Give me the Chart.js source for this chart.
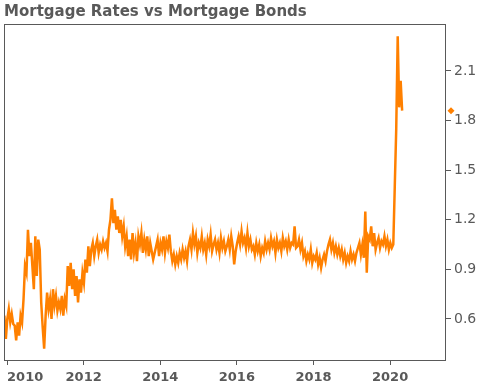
<!DOCTYPE html>
<html>
<head>
<meta charset="utf-8">
<title>Mortgage Rates vs Mortgage Bonds</title>
<script src="https://cdn.jsdelivr.net/npm/chart.js@4.4.1/dist/chart.umd.min.js"></script>
<style>
  html, body { margin: 0; padding: 0; background: #fff; }
  canvas { display: block; }
</style>
</head>
<body>
<canvas id="chart" width="484" height="386"></canvas>
<script>
// readings, roughly one every two weeks from the end of 2009
const startYear = 2009.93;
const stepYears = 1 / 26;
const spreadValues = [
  0.62, 0.48, 0.60, 0.66, 0.58, 0.63, 0.57,
  0.56, 0.47, 0.58, 0.50,
  0.62, 0.58, 0.72,
  0.92, 0.88, 1.14, 0.98,
  1.06, 0.92, 0.78, 1.10, 0.86, 1.08, 1.02,
  0.70, 0.55, 0.42,
  0.62, 0.76, 0.66, 0.72, 0.60, 0.78, 0.68, 0.74, 0.65,
  0.70, 0.66, 0.74, 0.62, 0.72, 0.68,
  0.92, 0.80, 0.94,
  0.78, 0.90, 0.74, 0.86, 0.70, 0.84, 0.76, 0.88,
  0.82, 0.96, 0.88, 1.04, 0.92,
  1.02, 1.06, 0.98, 1.04, 1.08, 1.00, 1.05, 1.02, 1.07, 1.03, 1.06, 1.01,
  1.14, 1.20, 1.33,
  1.18, 1.26, 1.14, 1.22, 1.12, 1.20, 1.10,
  1.16, 1.04, 1.10, 0.98, 1.08, 0.96, 1.12, 1.00, 1.06, 0.95, 1.10,
  1.05, 1.12, 1.00, 1.08, 1.02, 1.10, 0.98, 1.06, 1.01,
  0.96, 1.00,
  1.04, 1.08, 0.98, 1.06, 1.02, 1.10, 1.00, 1.07, 1.03, 1.11, 1.01,
  0.95, 0.99, 0.93, 0.98, 0.94, 1.00, 0.96, 1.02, 0.97, 1.01, 0.95,
  1.04, 1.08, 1.02, 1.12, 1.05, 1.10, 1.00, 1.06, 1.03,
  1.10, 1.02, 1.06, 0.99, 1.08, 1.04, 1.11, 1.01,
  1.05, 1.08, 1.02, 1.06, 1.00, 1.09, 1.03, 1.07, 1.01, 1.04, 1.08, 1.02, 1.10, 1.04, 0.93, 1.01, 1.06,
  1.10, 1.05, 1.13, 1.06, 1.09, 1.03, 1.12, 1.04, 1.08, 1.02,
  1.04, 0.99, 1.06, 1.01, 1.05, 0.98, 1.03, 1.00, 1.07, 1.02,
  1.06, 1.02, 1.09, 1.04, 1.07, 1.00, 1.08, 1.03, 1.06, 1.01, 1.09, 1.04, 1.07, 1.02, 1.08, 1.03, 1.06, 1.05,
  1.16, 1.03,
  1.04, 1.08, 1.02, 1.06,
  0.98, 1.01, 0.95, 0.99, 0.96, 1.02, 0.94, 0.98, 0.96, 1.00, 0.93, 0.97, 0.91, 0.96, 0.99, 0.95, 1.01,
  1.05, 1.08, 1.02, 1.06, 1.00, 1.04, 0.99, 1.03, 0.98, 1.02,
  0.96, 1.00, 0.94, 0.98, 0.95, 1.01, 0.96, 0.99, 0.95, 1.00,
  1.03, 1.06, 0.99, 1.05, 0.97,
  1.25, 0.88, 1.10,
  1.08, 1.16, 1.04, 1.12, 1.02, 1.06, 1.09, 1.03, 1.07, 1.05, 1.10, 1.04,
  1.08, 1.02, 1.06, 1.03, 1.05,
  1.40, 1.75, 2.31, 1.88, 2.04, 1.86
];
const yearTicks = [2010, 2012, 2014, 2016, 2018, 2020];
const valueTicks = [0.6, 0.9, 1.2, 1.5, 1.8, 2.1];

const xMin = 2009.92;
const xMax = 2021.46;
const axisColor = '#595959';
const lineColor = '#ff8000';

// box round the plot plus the last-value diamond on the right axis
const framePlugin = {
  id: 'frame',
  afterDatasetsDraw(chart) {
    const { ctx, chartArea, scales } = chart;
    ctx.save();
    ctx.strokeStyle = axisColor;
    ctx.lineWidth = 1;
    ctx.strokeRect(chartArea.left + 0.5, chartArea.top + 0.5, chartArea.width - 1, chartArea.height - 1);

    const last = spreadValues[spreadValues.length - 1];
    const y = scales.y.getPixelForValue(last);
    const x = chartArea.right + 5;
    ctx.fillStyle = lineColor;
    ctx.beginPath();
    ctx.moveTo(x, y - 3.5);
    ctx.lineTo(x + 3.5, y);
    ctx.lineTo(x, y + 3.5);
    ctx.lineTo(x - 3.5, y);
    ctx.closePath();
    ctx.fill();
    ctx.restore();
  }
};

const points = spreadValues.map((v, i) => ({ x: startYear + i * stepYears, y: v }));

new Chart(document.getElementById('chart'), {
  type: 'line',
  data: {
    datasets: [{
      data: points,
      borderColor: lineColor,
      borderWidth: 2.5,
      pointRadius: 0,
      tension: 0
    }]
  },
  options: {
    responsive: false,
    animation: false,
    layout: { padding: { left: 4, right: 0, top: 0, bottom: 0 } },
    plugins: {
      legend: { display: false },
      tooltip: { enabled: false },
      title: {
        display: true,
        text: 'Mortgage Rates vs Mortgage Bonds',
        align: 'start',
        color: axisColor,
        font: { family: 'DejaVu Sans', size: 15, weight: 'bold' },
        padding: { top: 3, bottom: 3 }
      }
    },
    scales: {
      x: {
        type: 'linear',
        min: xMin,
        max: xMax,
        // an empty end tick lets the first year label sit inside the box
        afterBuildTicks: scale => {
          scale.ticks = yearTicks.map(v => ({ value: v })).concat([{ value: xMax }]);
        },
        afterFit: scale => {
          scale.height = 25;
          scale.paddingLeft = 0;
          scale.paddingRight = 0;
        },
        ticks: {
          autoSkip: false,
          maxRotation: 0,
          align: 'inner',
          padding: 5,
          color: axisColor,
          font: { family: 'DejaVu Sans', size: 13, weight: 'bold' },
          callback: v => (yearTicks.includes(v) ? String(v) : '')
        },
        grid: {
          drawOnChartArea: false,
          tickLength: 4,
          color: c => (c.tick && yearTicks.includes(c.tick.value) ? axisColor : 'rgba(0,0,0,0)')
        },
        border: { display: false }
      },
      y: {
        position: 'right',
        min: 0.346,
        max: 2.384,
        afterBuildTicks: scale => { scale.ticks = valueTicks.map(v => ({ value: v })); },
        afterFit: scale => { scale.width = 38; },
        ticks: {
          padding: 3,
          color: axisColor,
          font: { family: 'DejaVu Sans', size: 14 },
          callback: v => v.toFixed(1)
        },
        grid: { drawOnChartArea: false, tickLength: 5, color: axisColor },
        border: { display: false }
      }
    }
  },
  plugins: [framePlugin]
});
</script>
</body>
</html>
